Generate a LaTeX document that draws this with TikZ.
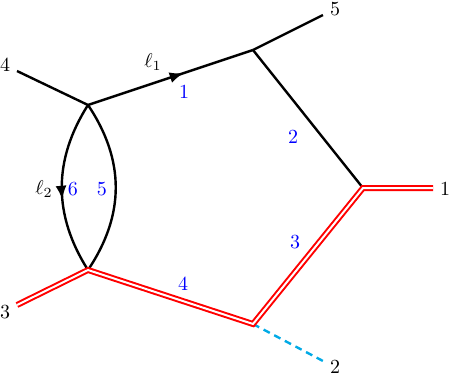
\documentclass[tikz,border=0pt]{standalone}
\usetikzlibrary{arrows.meta,decorations.markings}
\definecolor{cyanish}{RGB}{0,170,230}
\tikzset{
 prop/.style={line width=1.2pt},
 heavy/.style={draw=red, double=white, line width=1pt, double distance=1pt},
 ghost/.style={draw=cyanish, line width=1.2pt, dash pattern=on 3.5pt off 2.5pt},
 num/.style={text=blue, inner sep=0pt},
 ext/.style={inner sep=0pt},
 midarrow/.style={postaction={decorate}, decoration={markings, mark=at position #1 with {\arrow{Latex[length=7pt,width=5.5pt]}}}},
}
\begin{document}
\begin{tikzpicture}[x=0.5pt,y=-0.5pt]
\useasboundingbox (0,0) rectangle (451,376);
% vertices
\coordinate (A) at (88,105);
\coordinate (B) at (253,50);
\coordinate (C) at (363,188);
\coordinate (D) at (253,324);
\coordinate (E) at (88,270);
% external ends
\coordinate (x4) at (17,71);
\coordinate (x5) at (323,15);
\coordinate (x1) at (433,188);
\coordinate (x2) at (323,361);
\coordinate (x3) at (17,305);
% black lines
\draw[prop] (x4) -- (A);
\draw[prop, midarrow=0.58] (A) -- (B);
\draw[prop] (B) -- (x5);
\draw[prop] (B) -- (C);
\draw[prop, midarrow=0.57] (A) .. controls (53,160) and (53,215) .. (E);
\draw[prop] (A) .. controls (125,160) and (125,215) .. (E);
% ghost line
\draw[ghost] (D) -- (x2);
% heavy line
\draw[heavy] (x3) -- (E) -- (D) -- (C) -- (x1);
% external labels
\node[ext] (l4) at (5,65) {4};
\node[ext] (l5) at (335,9) {5};
\node[ext] (l1) at (445,189) {1};
\node[ext] (l2) at (335,367) {2};
\node[ext] (l3) at (5,312) {3};
% momentum labels
\node[ext] (m1) at (153,62) {$\ell_1$};
\node[ext] (m2) at (44,189) {$\ell_2$};
% edge numbers
\node[num] (n1) at (184,92) {1};
\node[num] (n2) at (293,137) {2};
\node[num] (n3) at (295,242) {3};
\node[num] (n4) at (183,284) {4};
\node[num] (n6) at (73,189) {6};
\node[num] (n5) at (102,189) {5};
\end{tikzpicture}
\end{document}
